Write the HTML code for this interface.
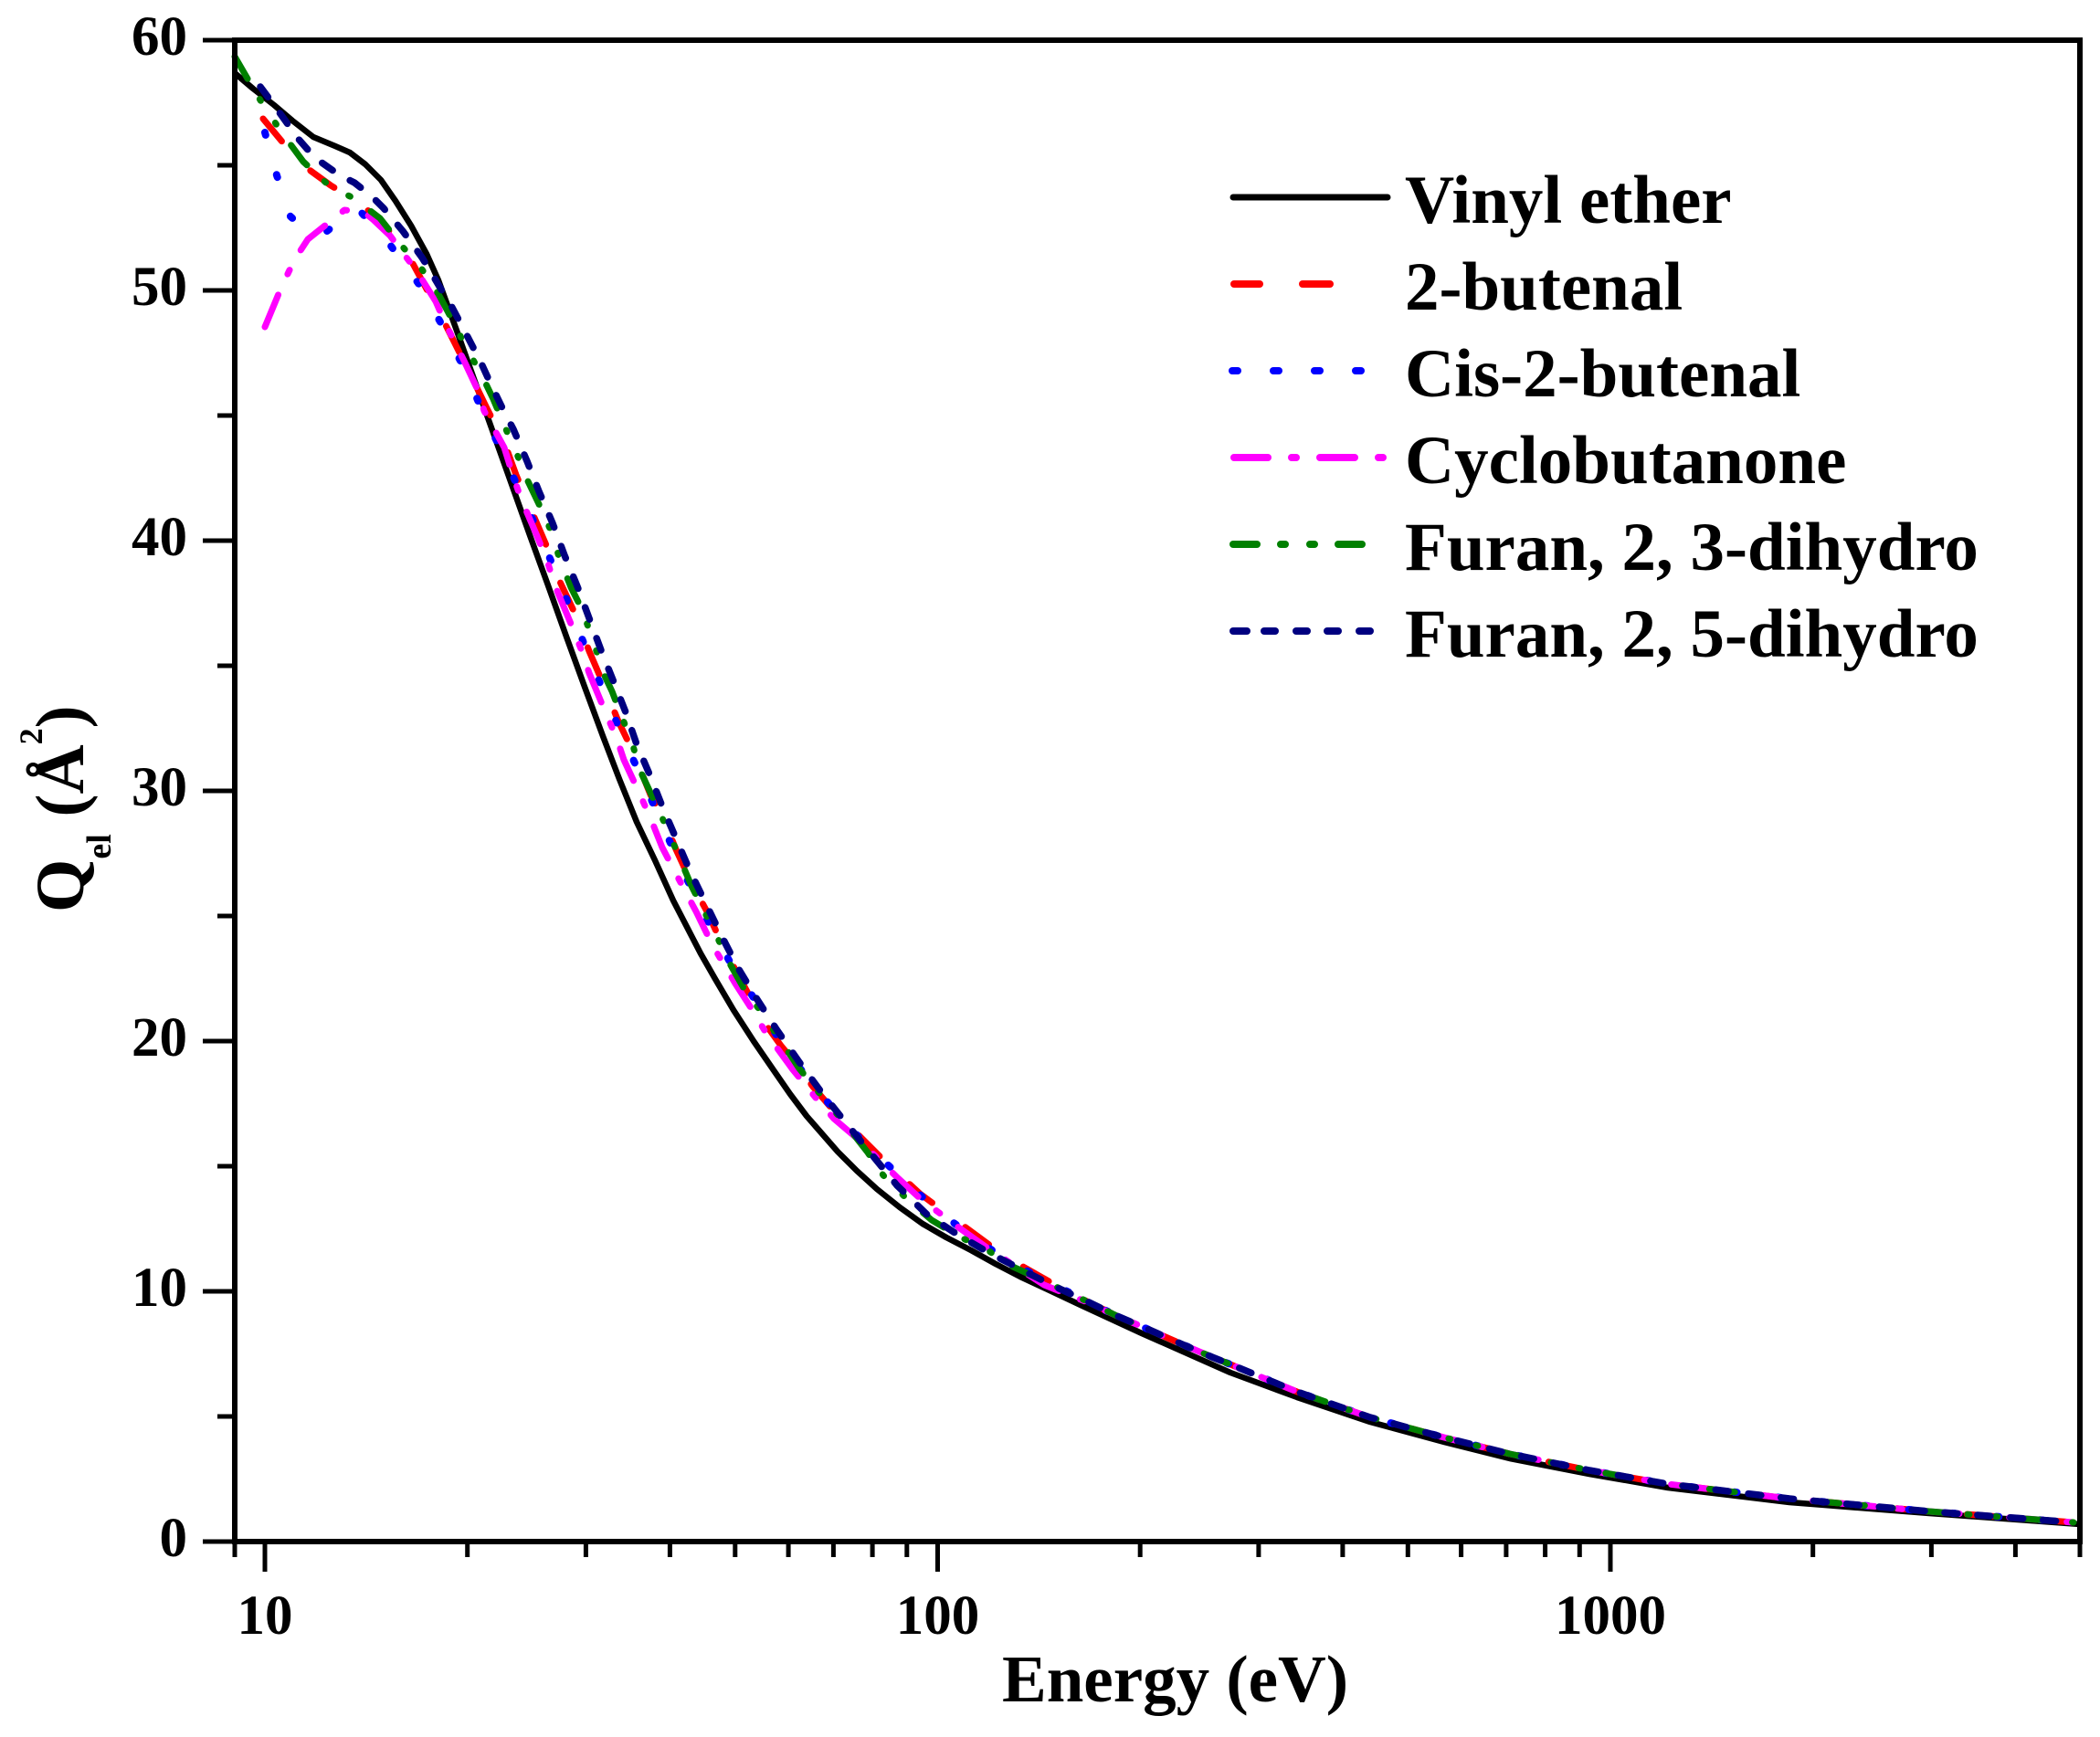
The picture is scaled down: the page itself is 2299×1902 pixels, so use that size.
<!DOCTYPE html>
<html>
<head>
<meta charset="utf-8">
<style>
html,body{margin:0;padding:0;background:#fff;}
svg{display:block;}
text{font-family:"Liberation Serif","Times New Roman",serif;font-weight:bold;fill:#000;}
</style>
</head>
<body>
<svg width="2299" height="1902" viewBox="0 0 2299 1902" xmlns="http://www.w3.org/2000/svg">
<rect x="0" y="0" width="2299" height="1902" fill="#fff"/>

<!-- curves -->
<g fill="none" stroke-linejoin="round">
<polyline stroke="#000" stroke-width="6.5" points="257,80 277,97 300,115 320,132 343,150 367,160 383,167 400,180 417,197 433,220 450,247 467,278 480,307 500,362 520,418 540,474 560,530 580,586 600,641 620,697 640,752 660,806 678,853 697,900 717,942 737,986 767,1044 783,1072 803,1106 825,1140 847,1172 865,1198 883,1222 917,1261 938,1282 960,1302 985,1322 1010,1340 1036,1355 1063,1369 1090,1384 1117,1398 1183,1429 1250,1460 1347,1503 1420,1530 1500,1557 1581,1579 1653,1597 1740,1614 1826,1629 1959,1645 2112,1657 2277,1669"/>

<polyline stroke="#ff0000" stroke-width="7" stroke-linecap="round" stroke-dasharray="32 45" points="288,130 317,165 340,187 362,203 393,222 420,245 450,285 477,335 490,360 515,410 533,447 553,487 565,520 583,562 598,597 613,637 630,673 645,713 660,748 677,790 693,823 712,870 725,893 740,930 757,967 775,1000 790,1033 805,1062 823,1095 837,1120 855,1145 873,1167 890,1190 910,1213 937,1240 967,1270 1007,1307 1042,1333 1083,1363 1113,1383 1150,1404 1188,1424 1223,1441 1258,1456 1292,1471 1327,1486 1347,1494 1420,1524 1500,1552 1581,1574 1653,1592 1740,1610 1826,1625 1959,1641 2112,1655 2270,1667"/>

<polyline stroke="#0000ff" stroke-width="8" stroke-linecap="round" stroke-dasharray="3 45" points="290,145 303,192 318,237 335,252 353,257 372,242 392,229 410,248 427,268 460,313 485,358 508,403 528,450 550,496 570,540 591,586 610,630 628,676 646,722 665,767 684,812 705,857 725,903 746,950 766,992 782,1022 800,1055 830,1100 860,1150 900,1200 940,1245 983,1286 1020,1320 1067,1357 1117,1388 1188,1424 1223,1441 1258,1456 1292,1471 1327,1486 1347,1494 1420,1524 1500,1552 1581,1574 1653,1592 1740,1610 1826,1625 1959,1641 2112,1655 2270,1667"/>

<polyline stroke="#ff00ff" stroke-width="7" stroke-linecap="round" stroke-dasharray="38 25 5 25" points="290,358 307,317 322,285 337,262 357,246 377,230 398,232 408,240 427,258 457,298 477,330 487,353 508,395 523,427 530,450 552,490 562,522 570,545 588,587 600,617 607,640 625,683 637,713 645,737 662,778 675,808 683,832 702,873 715,903 725,928 747,970 762,998 780,1035 805,1077 823,1105 838,1130 867,1170 893,1202 913,1225 940,1248 983,1290 1007,1312 1048,1343 1083,1368 1117,1390 1143,1407 1188,1425 1223,1441 1258,1456 1292,1471 1327,1486 1347,1494 1420,1524 1500,1552 1581,1574 1653,1592 1740,1610 1826,1625 1959,1641 2112,1655 2270,1667"/>

<polyline stroke="#008000" stroke-width="7" stroke-linecap="round" stroke-dasharray="28 26 2 29 2 28" points="257,62 275,93 290,118 312,150 332,177 360,203 387,217 416,239 438,267 462,295 480,322 496,352 510,380 527,410 540,437 553,468 565,495 578,527 590,552 604,583 612,610 625,643 637,667 648,698 662,740 670,757 680,783 692,813 700,842 713,870 727,900 740,930 757,970 772,1000 787,1030 800,1057 817,1087 835,1110 857,1143 875,1170 897,1197 925,1230 950,1262 967,1287 993,1313 1020,1336 1050,1354 1083,1370 1100,1383 1133,1398 1188,1424 1223,1441 1258,1456 1292,1471 1327,1486 1347,1494 1420,1524 1500,1552 1581,1574 1653,1592 1740,1610 1826,1625 1959,1641 2112,1655 2270,1667"/>

<polyline stroke="#000080" stroke-width="7.5" stroke-linecap="round" stroke-dasharray="14 22" points="285,95 300,115 313,133 323,148 345,173 372,192 388,200 407,215 420,228 441,253 462,282 470,295 483,317 492,331 510,365 527,398 537,420 553,453 562,470 577,505 590,538 605,573 618,608 632,642 645,677 658,712 672,747 685,780 697,815 712,850 725,883 740,918 755,953 772,988 790,1025 808,1060 828,1093 850,1127 875,1163 900,1197 928,1232 955,1265 982,1298 1015,1330 1050,1353 1083,1372 1120,1391 1153,1408 1188,1424 1223,1441 1258,1456 1292,1471 1327,1486 1347,1494 1420,1524 1500,1552 1581,1574 1653,1592 1740,1610 1826,1625 1959,1641 2112,1655 2270,1667"/>
</g>

<!-- frame -->
<rect x="257" y="44" width="2020" height="1644" fill="none" stroke="#000" stroke-width="6"/>

<!-- ticks -->
<g stroke="#000" stroke-width="5">
<line x1="222" y1="1688" x2="257" y2="1688"/>
<line x1="222" y1="1414" x2="257" y2="1414"/>
<line x1="222" y1="1140" x2="257" y2="1140"/>
<line x1="222" y1="866" x2="257" y2="866"/>
<line x1="222" y1="592" x2="257" y2="592"/>
<line x1="222" y1="318" x2="257" y2="318"/>
<line x1="222" y1="44" x2="257" y2="44"/>
<line x1="238" y1="1551" x2="257" y2="1551"/>
<line x1="238" y1="1277" x2="257" y2="1277"/>
<line x1="238" y1="1003" x2="257" y2="1003"/>
<line x1="238" y1="729" x2="257" y2="729"/>
<line x1="238" y1="455" x2="257" y2="455"/>
<line x1="238" y1="181" x2="257" y2="181"/>
<line x1="290" y1="1688" x2="290" y2="1721"/>
<line x1="1026.5" y1="1688" x2="1026.5" y2="1721"/>
<line x1="1763" y1="1688" x2="1763" y2="1721"/>
<line x1="257" y1="1688" x2="257" y2="1705"/>
<line x1="511.7" y1="1688" x2="511.7" y2="1705"/>
<line x1="641.4" y1="1688" x2="641.4" y2="1705"/>
<line x1="733.4" y1="1688" x2="733.4" y2="1705"/>
<line x1="804.8" y1="1688" x2="804.8" y2="1705"/>
<line x1="863.1" y1="1688" x2="863.1" y2="1705"/>
<line x1="912.4" y1="1688" x2="912.4" y2="1705"/>
<line x1="955.1" y1="1688" x2="955.1" y2="1705"/>
<line x1="992.8" y1="1688" x2="992.8" y2="1705"/>
<line x1="1248.2" y1="1688" x2="1248.2" y2="1705"/>
<line x1="1377.9" y1="1688" x2="1377.9" y2="1705"/>
<line x1="1469.9" y1="1688" x2="1469.9" y2="1705"/>
<line x1="1541.3" y1="1688" x2="1541.3" y2="1705"/>
<line x1="1599.6" y1="1688" x2="1599.6" y2="1705"/>
<line x1="1648.9" y1="1688" x2="1648.9" y2="1705"/>
<line x1="1691.6" y1="1688" x2="1691.6" y2="1705"/>
<line x1="1729.3" y1="1688" x2="1729.3" y2="1705"/>
<line x1="1984.7" y1="1688" x2="1984.7" y2="1705"/>
<line x1="2114.4" y1="1688" x2="2114.4" y2="1705"/>
<line x1="2206.4" y1="1688" x2="2206.4" y2="1705"/>
<line x1="2277" y1="1688" x2="2277" y2="1705"/>
</g>

<!-- tick labels -->
<g font-size="61" text-anchor="end">
<text x="205" y="1704">0</text>
<text x="205" y="1430">10</text>
<text x="205" y="1156">20</text>
<text x="205" y="882">30</text>
<text x="205" y="608">40</text>
<text x="205" y="334">50</text>
<text x="205" y="60">60</text>
</g>
<g font-size="61" text-anchor="middle">
<text x="290" y="1789">10</text>
<text x="1026.5" y="1789">100</text>
<text x="1763" y="1789">1000</text>
</g>

<!-- axis titles -->
<text x="1097" y="1863" font-size="73">Energy (eV)</text>
<text transform="translate(91,999) rotate(-90)" font-size="75">Q<tspan font-size="38" dy="30">el</tspan><tspan dy="-30"> (Å</tspan><tspan font-size="36" dy="-45">2</tspan><tspan dy="45">)</tspan></text>

<!-- legend -->
<g fill="none" stroke-linecap="round">
<line x1="1350" y1="216" x2="1519" y2="216" stroke="#000" stroke-width="7"/>
<g stroke="#ff0000" stroke-width="8">
<line x1="1351" y1="311" x2="1379" y2="311"/>
<line x1="1426" y1="311" x2="1456" y2="311"/>
</g>
<g stroke="#0000ff" stroke-width="8">
<line x1="1349" y1="406" x2="1355" y2="406"/>
<line x1="1394" y1="406" x2="1400" y2="406"/>
<line x1="1439" y1="406" x2="1445" y2="406"/>
<line x1="1484" y1="406" x2="1490" y2="406"/>
</g>
<g stroke="#ff00ff" stroke-width="8">
<line x1="1351" y1="501" x2="1388" y2="501"/>
<line x1="1414" y1="501" x2="1419" y2="501"/>
<line x1="1445" y1="501" x2="1483" y2="501"/>
<line x1="1509" y1="501" x2="1514" y2="501"/>
</g>
<g stroke="#008000" stroke-width="8">
<line x1="1350" y1="596" x2="1376" y2="596"/>
<line x1="1402" y1="596" x2="1407" y2="596"/>
<line x1="1434" y1="596" x2="1439" y2="596"/>
<line x1="1465" y1="596" x2="1491" y2="596"/>
</g>
<g stroke="#000080" stroke-width="8">
<line x1="1350" y1="691" x2="1365" y2="691"/>
<line x1="1384" y1="691" x2="1396" y2="691"/>
<line x1="1419" y1="691" x2="1431" y2="691"/>
<line x1="1453" y1="691" x2="1465" y2="691"/>
<line x1="1488" y1="691" x2="1500" y2="691"/>
</g>
</g>
<g font-size="75">
<text x="1538" y="244">Vinyl ether</text>
<text x="1538" y="339">2-butenal</text>
<text x="1538" y="434">Cis-2-butenal</text>
<text x="1538" y="529">Cyclobutanone</text>
<text x="1538" y="624">Furan, 2, 3-dihydro</text>
<text x="1538" y="719">Furan, 2, 5-dihydro</text>
</g>
</svg>
</body>
</html>
